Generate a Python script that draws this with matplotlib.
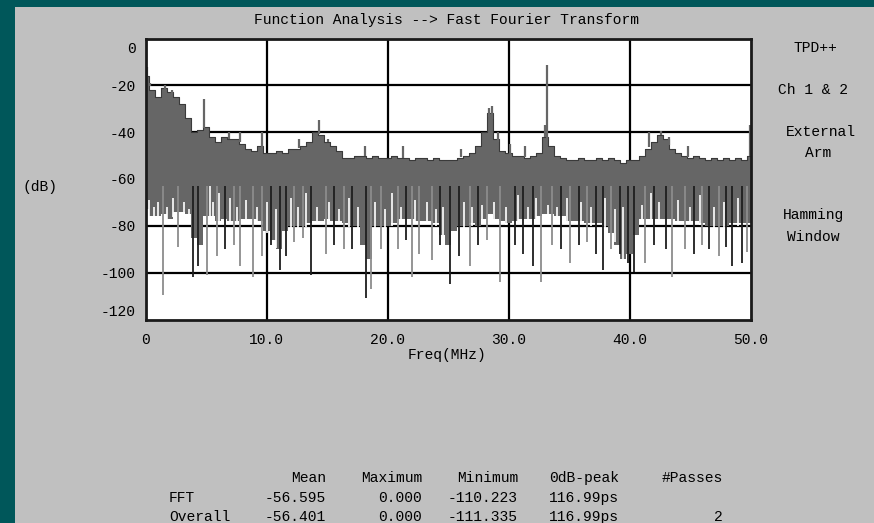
import matplotlib
matplotlib.use("Agg")
import matplotlib.pyplot as plt
import matplotlib.transforms as mtransforms
import numpy as np

# ---------------- data ----------------
freq_grid = [i * 0.5 for i in range(101)]  # MHz, 0 .. 50 step 0.5

upper_db = [-16, -22, -25, -21, -23, -25, -28, -34, -40, -39,
            -38, -42, -44, -42, -43, -43, -45, -47, -48, -46,
            -49, -49, -48, -49, -47, -47, -46, -44, -40, -41,
            -44, -46, -48, -51, -51, -50, -50, -51, -50, -51,
            -51, -50, -51, -51, -52, -51, -51, -52, -51, -52,
            -52, -52, -51, -50, -49, -46, -40, -32, -43, -48,
            -49, -50, -50, -51, -50, -49, -42, -46, -50, -51,
            -52, -52, -51, -52, -52, -51, -52, -51, -52, -53,
            -52, -52, -50, -47, -44, -41, -43, -47, -49, -50,
            -51, -50, -51, -52, -51, -52, -51, -52, -51, -52,
            -50]

lower_db = [-73, -76, -76, -75, -77, -74, -74, -75, -85, -88,
            -76, -76, -78, -77, -78, -78, -77, -77, -77, -78,
            -82, -86, -90, -82, -80, -80, -80, -79, -78, -78,
            -77, -78, -78, -79, -80, -80, -88, -94, -80, -80,
            -80, -79, -77, -77, -77, -78, -78, -78, -79, -84,
            -88, -82, -80, -80, -79, -80, -77, -75, -77, -78,
            -79, -78, -77, -77, -77, -76, -75, -75, -76, -76,
            -78, -78, -78, -79, -79, -79, -80, -83, -88, -94,
            -92, -84, -77, -77, -77, -77, -77, -77, -78, -78,
            -78, -78, -79, -80, -80, -80, -80, -79, -79, -79,
            -79]

# upward peaks: (freq MHz, top dB)
peak_freq = [0.04, 0.15, 0.35, 1.6, 2.2, 4.85, 6.9, 7.8, 9.6, 12.7, 14.3,
             15.1, 18.1, 21.3, 26.1, 28.4, 28.6, 29.1, 30.1, 31.4, 33.0,
             33.17, 41.6, 42.6, 43.3, 44.8, 49.95]
peak_db = [0, -12, -19, -20, -22, -25.7, -40, -40, -40, -43, -35,
           -43, -46, -46, -47, -29.5, -29, -40, -45, -46, -37,
           -11.3, -40, -39.5, -42, -46, -37]

# downward spikes: (freq MHz, minimum dB, trace 'd' dark / 'l' light)
spike_freq = [0.05, 1.45, 2.7, 3.95, 4.3, 5.1, 5.9, 6.6, 7.3, 7.8, 8.9, 9.6,
              10.4, 11.1, 11.6, 12.3, 13.0, 13.7, 14.9, 15.6, 16.4, 17.1,
              18.2, 18.6, 19.5, 20.9, 21.5, 22.0, 22.6, 23.7, 24.3, 25.2,
              25.9, 26.8, 27.5, 28.2, 29.3, 30.5, 31.2, 32.0, 32.7, 33.6,
              34.3, 35.1, 35.8, 36.5, 37.2, 37.8, 38.5, 39.2, 39.9, 40.4,
              41.3, 42.0, 43.0, 43.5, 44.6, 45.3, 46.0, 46.6, 47.4, 48.0,
              48.5, 49.3, 49.7]
spike_db = [-111, -109.6, -89, -102, -97, -101, -93, -90, -88, -97, -102, -93,
            -88, -99, -93, -87, -85, -101, -92, -88, -90, -90,
            -111, -107, -90, -90, -86, -102, -92, -94.6, -88, -105,
            -93, -97, -88, -86, -104, -88, -92, -97, -104, -88,
            -90, -96, -88, -87, -92, -99, -90, -92, -96, -99.6,
            -96, -88, -90, -102, -90, -92, -88, -90, -93, -89,
            -97, -96, -91]
spike_trace = ['d', 'l', 'l', 'd', 'd', 'l', 'l', 'd', 'l', 'l', 'l', 'l',
               'd', 'd', 'd', 'l', 'l', 'd', 'l', 'd', 'l', 'd',
               'd', 'l', 'l', 'l', 'd', 'l', 'l', 'l', 'd', 'd',
               'd', 'l', 'd', 'l', 'l', 'd', 'd', 'd', 'l', 'l',
               'd', 'l', 'd', 'l', 'd', 'd', 'l', 'd', 'd', 'd',
               'l', 'd', 'd', 'l', 'l', 'd', 'l', 'd', 'l', 'd',
               'd', 'd', 'l']

# white notches cutting up into the band: (freq MHz, top dB)
notch_freq = [0.3, 0.7, 1.0, 1.8, 2.3, 3.2, 3.6, 5.3, 5.6, 6.1, 7.0, 7.6, 8.3,
              9.2, 10.0, 10.8, 12.0, 12.6, 13.3, 14.2, 15.2, 16.0, 16.8, 17.6,
              19.0, 19.8, 20.4, 21.1, 22.3, 23.3, 24.0, 24.6, 26.3, 27.0, 27.8,
              28.8, 29.8, 30.8, 31.6, 32.3, 33.3, 34.0, 34.8, 36.0, 36.8, 38.0,
              38.8, 39.5, 41.0, 41.8, 42.4, 44.0, 45.0, 45.8, 47.0, 47.8, 49.0]
notch_db = [-69, -72, -70, -72, -68, -70, -73, -63, -70, -66, -68, -72, -69,
            -72, -70, -73, -68, -72, -66, -72, -70, -73, -68, -72,
            -70, -73, -66, -72, -69, -70, -73, -72, -70, -72, -71,
            -70, -72, -67, -72, -68, -71, -72, -68, -70, -72, -68,
            -73, -72, -71, -66, -70, -69, -72, -67, -72, -70, -68]

x_ticks = [0, 10, 20, 30, 40, 50]
x_tick_labels = ["0", "10.0", "20.0", "30.0", "40.0", "50.0"]
y_ticks = [0, -20, -40, -60, -80, -100, -120]
y_tick_labels = ["0", "-20", "-40", "-60", "-80", "-100", "-120"]

side_labels = ["TPD++", "Ch 1 & 2", "External", "Arm", "Hamming", "Window"]

table_columns = ["Mean", "Maximum", "Minimum", "0dB-peak", "#Passes"]
table_rows = ["FFT", "Overall"]
table_values = [["-56.595", "0.000", "-110.223", "116.99ps", ""],
                ["-56.401", "0.000", "-111.335", "116.99ps", "2"]]

# ---------------- figure ----------------
W, H = 874, 523
fig = plt.figure(figsize=(W / 100, H / 100), dpi=100)
fig.patch.set_facecolor("#00575A")

FONT = "Liberation Mono"
FS = 10.5


def fx(px):
    return px / W


def fy(py):
    return 1 - py / H


# grey panel
fig.patches.append(plt.Rectangle((fx(15), 0), 1 - fx(15), fy(7), transform=fig.transFigure,
                                 facecolor="#C0C0C0", edgecolor="none", zorder=-10))

left, right, top, bottom = 145.5, 750.5, 38.5, 319.5
ax = fig.add_axes([fx(left), fy(bottom), fx(right) - fx(left), (bottom - top) / H])
ax.set_zorder(5)
ax.set_facecolor("white")
ax.set_xlim(0, 50)
ax.set_ylim(-120, 0)

for s in ax.spines.values():
    s.set_linewidth(2)
    s.set_color("#1a1a1a")
    s.set_zorder(10)

ax.set_xticks(x_ticks)
ax.set_xticklabels(x_tick_labels, fontfamily=FONT, fontsize=FS)
ax.set_yticks(y_ticks)
ax.set_yticklabels(y_tick_labels, fontfamily=FONT, fontsize=FS)
ax.tick_params(axis="both", length=0)
ax.tick_params(axis="x", pad=10)
ax.tick_params(axis="y", pad=7)

# shift end labels inward like the original
for lab, v in zip(ax.get_yticklabels(), y_ticks):
    if v == 0:
        lab.set_transform(lab.get_transform() + mtransforms.ScaledTranslation(0, -0.09, fig.dpi_scale_trans))
    if v == -120:
        lab.set_transform(lab.get_transform() + mtransforms.ScaledTranslation(0, 0.09, fig.dpi_scale_trans))

# grid
for xv in x_ticks[1:-1]:
    ax.axvline(xv, color="black", lw=1.6, zorder=1)
for yv in y_ticks[1:-1]:
    ax.axhline(yv, color="black", lw=1.6, zorder=1)

band = "#666666"
f = np.array(freq_grid)
up = np.array(upper_db)
lo = np.array(lower_db)
ax.fill_between(f, lo, up, step="mid", color=band, lw=0, zorder=2)
ax.step(f, up, where="mid", color="#3a3a3a", lw=0.8, zorder=3)

# notches (white)
lo_at = np.interp(notch_freq, f, lo)
ax.vlines(notch_freq, lo_at - 1, notch_db, color="white", lw=1.2, zorder=3)

# peaks
up_at = np.interp(peak_freq, f, up)
ax.vlines(peak_freq, up_at, peak_db, color=band, lw=1.6, zorder=3)

# downward spikes
for fr, v, t in zip(spike_freq, spike_db, spike_trace):
    col = "#1e1e1e" if t == "d" else "#8c8c8c"
    start = -63 if t == "l" else -63
    ax.vlines(fr, v, start, color=col, lw=1.3, zorder=4)

# texts
fig.text(fx(447), fy(20), "Function Analysis --> Fast Fourier Transform",
         ha="center", va="center", fontfamily=FONT, fontsize=FS)
fig.text(fx(447), fy(355), "Freq(MHz)", ha="center", va="center", fontfamily=FONT, fontsize=FS)
fig.text(fx(40), fy(187), "(dB)", ha="center", va="center", fontfamily=FONT, fontsize=FS)

side_pos = [(815, 48), (813, 90), (821, 132), (818, 153), (814, 215), (813, 237)]
for txt, (px, py) in zip(side_labels, side_pos):
    fig.text(fx(px), fy(py), txt, ha="center", va="center", fontfamily=FONT, fontsize=FS)

col_right = [326, 422, 518, 619, 723]
row_base = [502, 521]
for c, xr in zip(table_columns, col_right):
    fig.text(fx(xr), fy(482), c, ha="right", va="baseline", fontfamily=FONT, fontsize=FS)
for r, yr, vals in zip(table_rows, row_base, table_values):
    fig.text(fx(169), fy(yr), r, ha="left", va="baseline", fontfamily=FONT, fontsize=FS)
    for v, xr in zip(vals, col_right):
        if v:
            fig.text(fx(xr), fy(yr), v, ha="right", va="baseline", fontfamily=FONT, fontsize=FS)

fig.savefig("out.png", dpi=100, facecolor=fig.get_facecolor())
